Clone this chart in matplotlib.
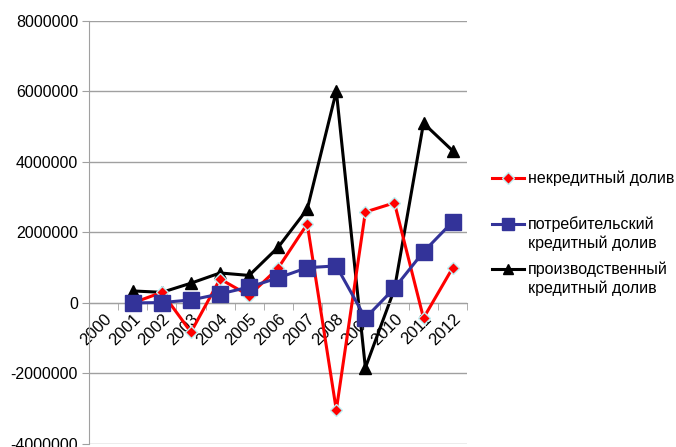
import matplotlib.pyplot as plt
from matplotlib.lines import Line2D
import numpy as np

plt.rcParams['font.family'] = ['Liberation Sans', 'DejaVu Sans']

years = ['2000', '2001', '2002', '2003', '2004', '2005', '2006',
         '2007', '2008', '2009', '2010', '2011', '2012']

# values from 2001 to 2012
noncredit = [0, 300000, -830000, 680000, 210000, 990000, 2240000,
             -3040000, 2580000, 2840000, -430000, 990000]
consumer = [0, 10000, 85000, 255000, 450000, 710000, 1000000,
            1050000, -430000, 420000, 1450000, 2300000]
production = [340000, 300000, 560000, 850000, 780000, 1580000, 2660000,
              6010000, -1840000, 390000, 5100000, 4320000]

labels = ['некредитный долив',
          'потребительский\nкредитный долив',
          'производственный\nкредитный долив']

W, H = 676, 447
fig = plt.figure(figsize=(W / 100, H / 100), dpi=100)
ax = fig.add_axes([0.132, 0.007, 0.559, 0.946])

styles = [
    dict(color='#ff0000', marker='D', ms=6, mfc='#ff0000', mec='#bfeff2', mew=1, zorder=3),
    dict(color='#333399', marker='s', ms=11, mfc='#333399', mec='#333399', zorder=4),
    dict(color='black', marker='^', ms=8, mfc='black', mec='black', zorder=2),
]
legend_ms = [6, 8, 7]

x = np.arange(1, len(years))
for vals, st in zip([noncredit, consumer, production], styles):
    ax.plot(x, vals, lw=2.2, **st)

ax.set_xlim(-0.5, len(years) - 0.5)
ax.set_ylim(-4000000, 8000000)
ax.set_yticks(np.arange(-4000000, 8000001, 2000000))
ax.set_yticklabels([str(v) for v in range(-4000000, 8000001, 2000000)], fontsize=11.5)
ax.yaxis.grid(True, color='#a0a0a0', lw=1)
ax.set_axisbelow(True)

for s in ['top', 'right']:
    ax.spines[s].set_visible(False)
ax.spines['left'].set_color('#a0a0a0')
ax.spines['bottom'].set_position(('data', 0))
ax.spines['bottom'].set_color('#a0a0a0')
ax.tick_params(axis='y', length=5, color='#a0a0a0', pad=3)

ax.set_xticks(np.arange(len(years)))
ax.set_xticklabels(years, rotation=45, ha='right', va='top',
                   rotation_mode='anchor', fontsize=12)
ax.set_xticks(np.arange(-0.5, len(years), 1), minor=True)
ax.tick_params(axis='x', which='major', length=0, pad=6)
ax.tick_params(axis='x', which='minor', length=5, color='#a0a0a0')

# legend: handle lines up with the first text line of each entry
row_y = [178, 224, 269]
line_h = 19
for ypx, lab, st, lms in zip(row_y, labels, styles, legend_ms):
    yf = 1 - ypx / H
    st = dict(st, ms=lms)
    st.pop('zorder')
    fig.add_artist(Line2D([492 / W, 524 / W], [yf, yf], lw=2.2, transform=fig.transFigure,
                          markevery=[], **st))
    fig.add_artist(Line2D([508 / W], [yf], transform=fig.transFigure, **st))
    for k, part in enumerate(lab.split('\n')):
        fig.text(528 / W, 1 - (ypx + k * line_h) / H, part, fontsize=11.5,
                 ha='left', va='center')

fig.savefig('out.png', dpi=100)
